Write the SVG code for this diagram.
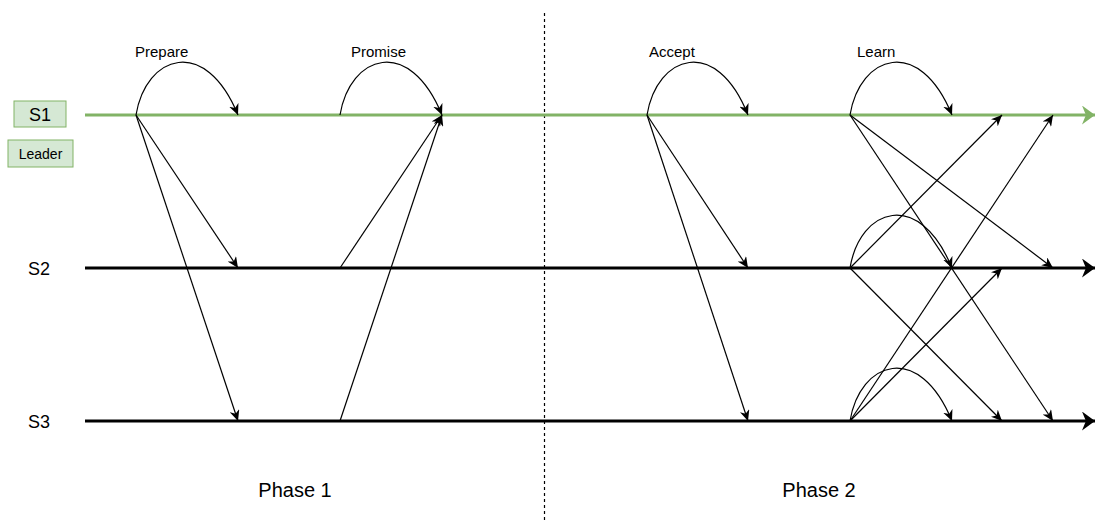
<svg xmlns="http://www.w3.org/2000/svg" width="1095" height="521" viewBox="0 0 1095 521">
<style>
.t{font-family:"Liberation Sans",Arial,sans-serif;fill:#000}
.msg{fill:none;stroke:#000;stroke-width:1.2;marker-end:url(#a)}
.box{fill:#d5e8d4;stroke:#82b366;stroke-width:1}
</style>
<defs>
<marker id="a" markerUnits="userSpaceOnUse" viewBox="0 0 10 10" refX="10" refY="5" markerWidth="11" markerHeight="10" orient="auto" preserveAspectRatio="none">
<path d="M0,0 L10,5 L0,10 L3,5 z" fill="#000"/>
</marker>
<marker id="bk" markerUnits="userSpaceOnUse" viewBox="0 0 10 10" refX="10" refY="5" markerWidth="13" markerHeight="19" orient="auto" preserveAspectRatio="none">
<path d="M0,0 L10,5 L0,10 L3,5 z" fill="#000"/>
</marker>
<marker id="gr" markerUnits="userSpaceOnUse" viewBox="0 0 10 10" refX="10" refY="5" markerWidth="13" markerHeight="19" orient="auto" preserveAspectRatio="none">
<path d="M0,0 L10,5 L0,10 L3,5 z" fill="#82b366"/>
</marker>
</defs>
<rect width="1095" height="521" fill="#fff"/>
<g id="divider"><line x1="544.5" y1="13" x2="544.5" y2="521" stroke="#000" stroke-width="1.2" stroke-dasharray="3 3"/></g>
<g id="timelines">
<line x1="85" y1="115" x2="1095" y2="115" stroke="#82b366" stroke-width="3" marker-end="url(#gr)"/>
<line x1="85" y1="268" x2="1095" y2="268" stroke="#000" stroke-width="3" marker-end="url(#bk)"/>
<line x1="85" y1="421" x2="1095" y2="421" stroke="#000" stroke-width="3" marker-end="url(#bk)"/>
</g>
<g id="node-s1"><rect class="box" x="14" y="101" width="52" height="26"/><text class="t" x="40" y="121" font-size="18" text-anchor="middle">S1</text></g>
<g id="node-leader"><rect class="box" x="8" y="140" width="65" height="27"/><text class="t" x="40.5" y="159" font-size="14" text-anchor="middle">Leader</text></g>
<g id="node-s2"><text class="t" x="28" y="275" font-size="18">S2</text></g>
<g id="node-s3"><text class="t" x="28" y="428" font-size="18">S3</text></g>
<g id="labels">
<text class="t" x="135" y="57" font-size="15">Prepare</text>
<text class="t" x="351" y="57" font-size="15">Promise</text>
<text class="t" x="649" y="57" font-size="15">Accept</text>
<text class="t" x="857" y="57" font-size="15">Learn</text>
<text class="t" x="295" y="497" font-size="20" text-anchor="middle">Phase 1</text>
<text class="t" x="819" y="497" font-size="20" text-anchor="middle">Phase 2</text>
</g>
<g id="connectors">
<path class="msg" d="M136,115 C146,55 205,35 238,115"/>
<path class="msg" d="M136,115 L238,268"/>
<path class="msg" d="M136,115 L238,421"/>
<path class="msg" d="M340,115 C350,55 409,35 442,115"/>
<path class="msg" d="M340,268 L442,115"/>
<path class="msg" d="M340,421 L442,115"/>
<path class="msg" d="M647,115 C657,55 716,35 748,115"/>
<path class="msg" d="M647,115 L748,268"/>
<path class="msg" d="M647,115 L748,421"/>
<path class="msg" d="M850,115 C860,55 919,35 952,115"/>
<path class="msg" d="M850,115 L1053,268"/>
<path class="msg" d="M850,115 L1053,421"/>
<path class="msg" d="M850,268 C860,208 919,188 952,268"/>
<path class="msg" d="M850,268 L1002,115"/>
<path class="msg" d="M850,268 L1002,421"/>
<path class="msg" d="M850,421 C860,361 919,341 952,421"/>
<path class="msg" d="M850,421 L1002,268"/>
<path class="msg" d="M850,421 L1053,115"/>
</g>
</svg>
